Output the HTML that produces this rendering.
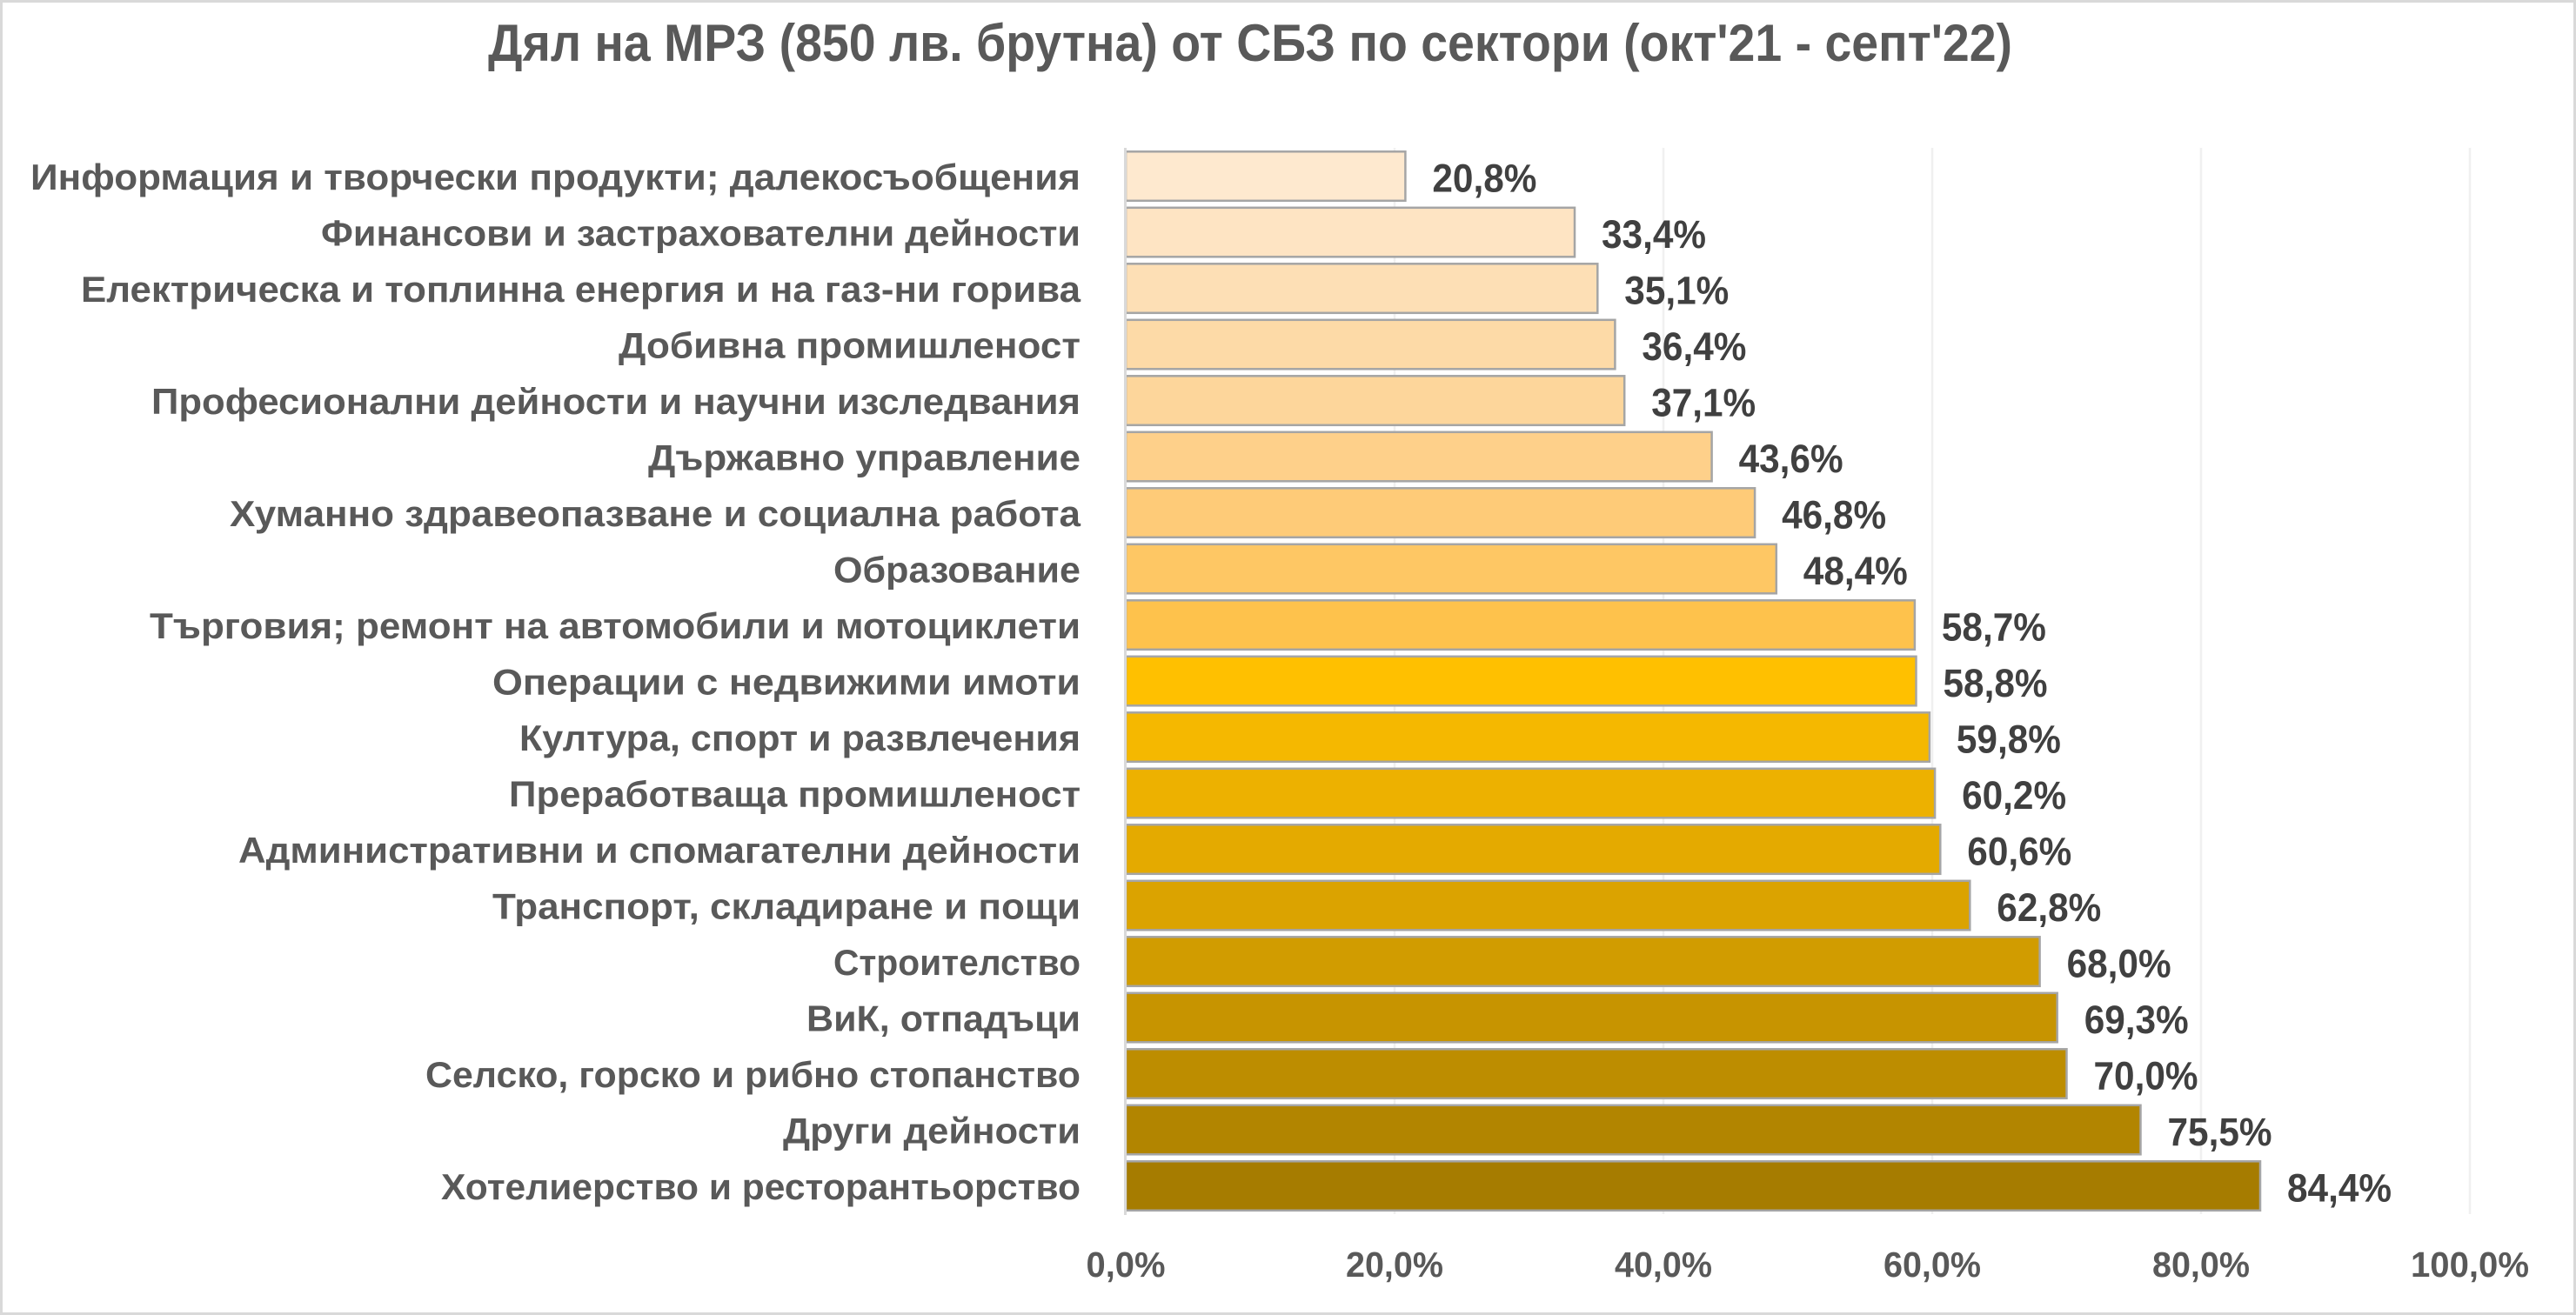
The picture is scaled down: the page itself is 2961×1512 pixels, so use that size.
<!DOCTYPE html>
<html>
<head>
<meta charset="utf-8">
<style>
html,body{margin:0;padding:0;background:#fff;}
svg{display:block;}
text{font-family:"Liberation Sans","DejaVu Sans",sans-serif;font-weight:bold;}
</style>
</head>
<body>
<svg width="2961" height="1512" viewBox="0 0 2961 1512" xmlns="http://www.w3.org/2000/svg">
<rect x="1.5" y="1.5" width="2958" height="1509" fill="#ffffff" stroke="#D9D9D9" stroke-width="3"/>

<text x="561" y="70" font-size="60" fill="#595959" textLength="1752" lengthAdjust="spacingAndGlyphs">Дял на МРЗ (850 лв. брутна) от СБЗ по сектори (окт'21 - септ'22)</text>

<g stroke="#F0F0F0" stroke-width="2.5">
<line x1="1603" y1="170" x2="1603" y2="1396"/>
<line x1="1912" y1="170" x2="1912" y2="1396"/>
<line x1="2221" y1="170" x2="2221" y2="1396"/>
<line x1="2530" y1="170" x2="2530" y2="1396"/>
<line x1="2839" y1="170" x2="2839" y2="1396"/>
</g>

<g stroke="#A5A5A5" stroke-width="2.5">
<rect x="1294" y="174.3" width="321.4" height="56.5" fill="#FEE9CF"/>
<rect x="1294" y="238.8" width="516.0" height="56.5" fill="#FEE4C3"/>
<rect x="1294" y="303.3" width="542.3" height="56.5" fill="#FDDFB5"/>
<rect x="1294" y="367.8" width="562.4" height="56.5" fill="#FDDAA7"/>
<rect x="1294" y="432.3" width="573.2" height="56.5" fill="#FDD69B"/>
<rect x="1294" y="496.8" width="673.6" height="56.5" fill="#FED08A"/>
<rect x="1294" y="561.3" width="723.1" height="56.5" fill="#FECB78"/>
<rect x="1294" y="625.8" width="747.8" height="56.5" fill="#FEC764"/>
<rect x="1294" y="690.3" width="906.9" height="56.5" fill="#FEC24C"/>
<rect x="1294" y="754.8" width="908.5" height="56.5" fill="#FFC000"/>
<rect x="1294" y="819.3" width="923.9" height="56.5" fill="#F5B800"/>
<rect x="1294" y="883.8" width="930.1" height="56.5" fill="#EDB100"/>
<rect x="1294" y="948.3" width="936.3" height="56.5" fill="#E4AA00"/>
<rect x="1294" y="1012.8" width="970.3" height="56.5" fill="#DBA300"/>
<rect x="1294" y="1077.3" width="1050.6" height="56.5" fill="#D19C00"/>
<rect x="1294" y="1141.8" width="1070.7" height="56.5" fill="#C79400"/>
<rect x="1294" y="1206.3" width="1081.5" height="56.5" fill="#BD8D00"/>
<rect x="1294" y="1270.8" width="1166.5" height="56.5" fill="#B28500"/>
<rect x="1294" y="1335.3" width="1304.0" height="56.5" fill="#A67C00"/>
</g>

<line x1="1293.5" y1="170" x2="1293.5" y2="1397" stroke="#D9D9D9" stroke-width="3"/>

<g font-size="42" fill="#595959" text-anchor="end">
<text x="1242" y="218" textLength="1207" lengthAdjust="spacingAndGlyphs">Информация и творчески продукти; далекосъобщения</text>
<text x="1242" y="282.5" textLength="873" lengthAdjust="spacingAndGlyphs">Финансови и застрахователни дейности</text>
<text x="1242" y="347" textLength="1149" lengthAdjust="spacingAndGlyphs">Електрическа и топлинна енергия и на газ-ни горива</text>
<text x="1242" y="411.5" textLength="531" lengthAdjust="spacingAndGlyphs">Добивна промишленост</text>
<text x="1242" y="476" textLength="1068" lengthAdjust="spacingAndGlyphs">Професионални дейности и научни изследвания</text>
<text x="1242" y="540.5" textLength="497" lengthAdjust="spacingAndGlyphs">Държавно управление</text>
<text x="1242" y="605" textLength="978" lengthAdjust="spacingAndGlyphs">Хуманно здравеопазване и социална работа</text>
<text x="1242" y="669.5" textLength="284" lengthAdjust="spacingAndGlyphs">Образование</text>
<text x="1242" y="734" textLength="1070" lengthAdjust="spacingAndGlyphs">Търговия; ремонт на автомобили и мотоциклети</text>
<text x="1242" y="798.5" textLength="676" lengthAdjust="spacingAndGlyphs">Операции с недвижими имоти</text>
<text x="1242" y="863" textLength="645" lengthAdjust="spacingAndGlyphs">Култура, спорт и развлечения</text>
<text x="1242" y="927.5" textLength="657" lengthAdjust="spacingAndGlyphs">Преработваща промишленост</text>
<text x="1242" y="992" textLength="968" lengthAdjust="spacingAndGlyphs">Административни и спомагателни дейности</text>
<text x="1242" y="1056.5" textLength="676" lengthAdjust="spacingAndGlyphs">Транспорт, складиране и пощи</text>
<text x="1242" y="1121" textLength="284" lengthAdjust="spacingAndGlyphs">Строителство</text>
<text x="1242" y="1185.5" textLength="315" lengthAdjust="spacingAndGlyphs">ВиК, отпадъци</text>
<text x="1242" y="1250" textLength="753" lengthAdjust="spacingAndGlyphs">Селско, горско и рибно стопанство</text>
<text x="1242" y="1314.5" textLength="342" lengthAdjust="spacingAndGlyphs">Други дейности</text>
<text x="1242" y="1379" textLength="735" lengthAdjust="spacingAndGlyphs">Хотелиерство и ресторантьорство</text>
</g>

<g font-size="45" fill="#404040">
<text x="1646.4" y="220.5" textLength="120" lengthAdjust="spacingAndGlyphs">20,8%</text>
<text x="1841" y="285" textLength="120" lengthAdjust="spacingAndGlyphs">33,4%</text>
<text x="1867.3" y="349.5" textLength="120" lengthAdjust="spacingAndGlyphs">35,1%</text>
<text x="1887.4" y="414" textLength="120" lengthAdjust="spacingAndGlyphs">36,4%</text>
<text x="1898.2" y="478.5" textLength="120" lengthAdjust="spacingAndGlyphs">37,1%</text>
<text x="1998.6" y="543" textLength="120" lengthAdjust="spacingAndGlyphs">43,6%</text>
<text x="2048.1" y="607.5" textLength="120" lengthAdjust="spacingAndGlyphs">46,8%</text>
<text x="2072.8" y="672" textLength="120" lengthAdjust="spacingAndGlyphs">48,4%</text>
<text x="2231.9" y="736.5" textLength="120" lengthAdjust="spacingAndGlyphs">58,7%</text>
<text x="2233.5" y="801" textLength="120" lengthAdjust="spacingAndGlyphs">58,8%</text>
<text x="2248.9" y="865.5" textLength="120" lengthAdjust="spacingAndGlyphs">59,8%</text>
<text x="2255.1" y="930" textLength="120" lengthAdjust="spacingAndGlyphs">60,2%</text>
<text x="2261.3" y="994.5" textLength="120" lengthAdjust="spacingAndGlyphs">60,6%</text>
<text x="2295.3" y="1059" textLength="120" lengthAdjust="spacingAndGlyphs">62,8%</text>
<text x="2375.6" y="1123.5" textLength="120" lengthAdjust="spacingAndGlyphs">68,0%</text>
<text x="2395.7" y="1188" textLength="120" lengthAdjust="spacingAndGlyphs">69,3%</text>
<text x="2406.5" y="1252.5" textLength="120" lengthAdjust="spacingAndGlyphs">70,0%</text>
<text x="2491.5" y="1317" textLength="120" lengthAdjust="spacingAndGlyphs">75,5%</text>
<text x="2629" y="1381.5" textLength="120" lengthAdjust="spacingAndGlyphs">84,4%</text>
</g>

<g font-size="41" fill="#595959" text-anchor="middle">
<text x="1294" y="1468" textLength="91" lengthAdjust="spacingAndGlyphs">0,0%</text>
<text x="1603" y="1468" textLength="112" lengthAdjust="spacingAndGlyphs">20,0%</text>
<text x="1912" y="1468" textLength="112" lengthAdjust="spacingAndGlyphs">40,0%</text>
<text x="2221" y="1468" textLength="112" lengthAdjust="spacingAndGlyphs">60,0%</text>
<text x="2530" y="1468" textLength="112" lengthAdjust="spacingAndGlyphs">80,0%</text>
<text x="2839" y="1468" textLength="136" lengthAdjust="spacingAndGlyphs">100,0%</text>
</g>
</svg>
</body>
</html>
